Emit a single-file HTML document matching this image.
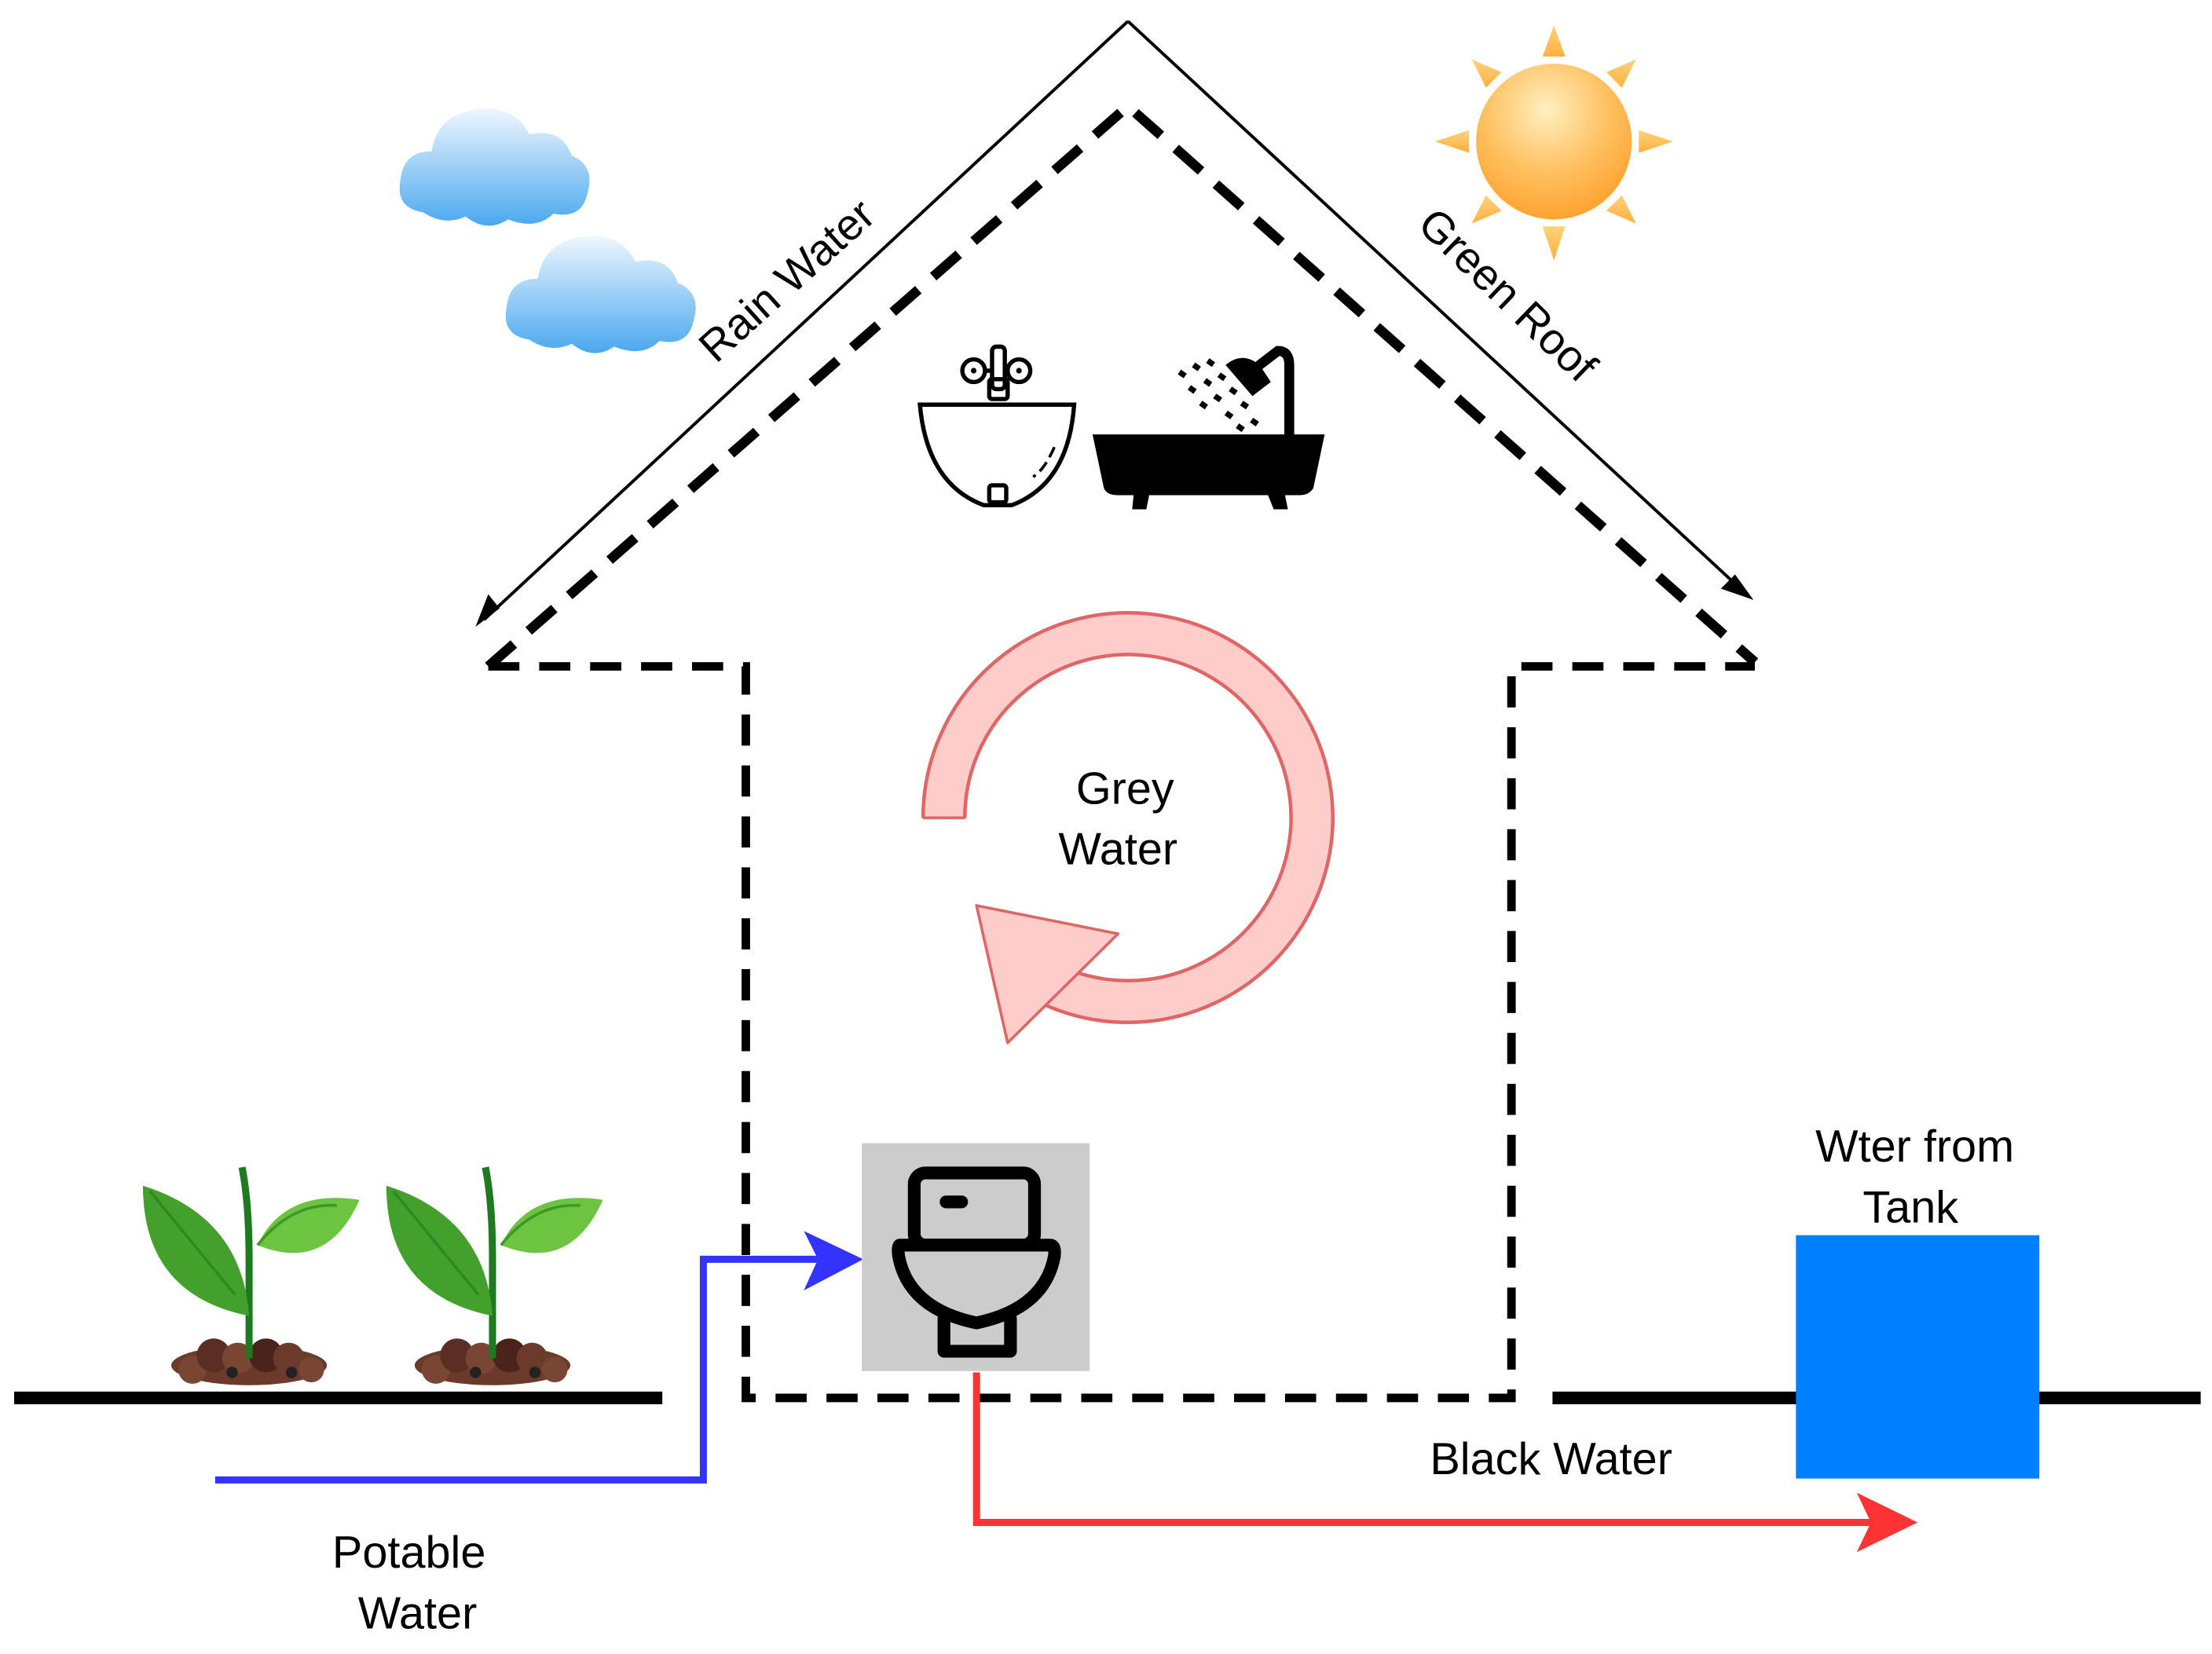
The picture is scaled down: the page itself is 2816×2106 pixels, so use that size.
<!DOCTYPE html>
<html><head><meta charset="utf-8"><style>html,body{margin:0;padding:0;background:#fff}svg{display:block}</style></head><body>
<svg width="2816" height="2106" viewBox="0 0 1563 1169" preserveAspectRatio="none" xmlns="http://www.w3.org/2000/svg" font-family="Liberation Sans, sans-serif">
<defs>
<linearGradient id="cl" x1="0" y1="0" x2="0" y2="1"><stop offset="0" stop-color="#eef7fe"/><stop offset="1" stop-color="#4aa8ef"/></linearGradient>
<radialGradient id="sun" cx="0.45" cy="0.3" r="0.8"><stop offset="0" stop-color="#fff0c0"/><stop offset="0.5" stop-color="#ffc060"/><stop offset="1" stop-color="#ff9a20"/></radialGradient>
<linearGradient id="ray" x1="0" y1="0" x2="0" y2="1"><stop offset="0" stop-color="#ffd27a"/><stop offset="1" stop-color="#ffb040"/></linearGradient>
<g id="cloud"><path fill="url(#cl)" d="M-50 35 Q-70 32 -66 12 Q-64 -8 -44 -8 Q-40 -35 -10 -38 Q15 -40 25 -20 Q48 -25 55 -5 Q72 2 66 22 Q62 40 42 36 Q30 48 10 40 Q-5 50 -20 38 Q-35 45 -50 35Z"/></g>
<g id="plant">
<ellipse cx="0" cy="135" rx="55" ry="14" fill="#6b3a2a"/>
<circle cx="-40" cy="138" r="10" fill="#7a4634"/><circle cx="-25" cy="128" r="12" fill="#5a2e22"/><circle cx="-8" cy="130" r="11" fill="#7a4634"/><circle cx="12" cy="128" r="12" fill="#4a241a"/><circle cx="28" cy="130" r="11" fill="#6b3a2a"/><circle cx="44" cy="138" r="9" fill="#7a4634"/><circle cx="-12" cy="140" r="4" fill="#222"/><circle cx="30" cy="140" r="4" fill="#222"/>
<path d="M0 130 L0 60 Q0 20 -5 -5" stroke="#1e7a1e" stroke-width="5" fill="none"/>
<path d="M0 100 Q-5 30 -75 8 Q-75 85 0 100Z" fill="#43a02c"/>
<path d="M-70 12 L-10 85" stroke="#2c8a20" stroke-width="2"/>
<path d="M6 50 Q25 10 78 18 Q55 70 6 50Z" fill="#6cc440"/>
<path d="M6 50 Q30 20 62 22" stroke="#3d9a2a" stroke-width="2" fill="none"/>
</g>
</defs>

<use href="#cloud" x="349" y="115"/>
<use href="#cloud" x="424" y="205"/>

<g fill="url(#ray)">
<polygon points="1090,40 1106,40 1098,18"/>
<polygon points="1090,160 1106,160 1098,184"/>
<polygon points="1038,92 1038,108 1014,100"/>
<polygon points="1158,92 1158,108 1182,100"/>
<polygon points="1050,62 1061,51 1040,42"/>
<polygon points="1135,51 1146,62 1156,42"/>
<polygon points="1050,138 1061,149 1040,158"/>
<polygon points="1135,149 1146,138 1156,158"/>
</g>
<circle cx="1098" cy="100" r="55" fill="url(#sun)"/>

<g stroke="#000" stroke-width="2.2" fill="none">
<path d="M797 15 L342 438"/><path d="M797 15 L1234 420"/>
</g>
<polygon points="336,443 345,420 353,430" fill="#000"/>
<polygon points="1239,424 1216,416 1226,406" fill="#000"/>

<path d="M345 471 L797 75 L1240 468" fill="none" stroke="#000" stroke-width="7" stroke-dasharray="24 14"/>
<path d="M345 471 L527 471 L527 988 L1068 988 L1068 471 L1240 471" fill="none" stroke="#000" stroke-width="6" stroke-dasharray="22 14"/>

<path d="M10 988 L468 988 M1097 988 L1555 988" stroke="#000" stroke-width="9"/>

<text x="0" y="0" font-size="31" text-anchor="middle" transform="translate(563,206) rotate(-42)">Rain Water</text>
<text x="0" y="0" font-size="31" text-anchor="middle" transform="translate(1058,216) rotate(44)">Green Roof</text>

<g stroke="#000" stroke-width="3" fill="none">
<path d="M650 286 L759 286 Q755 342 715 357 L695 357 Q655 342 650 286Z"/>
<rect x="699" y="343" width="12" height="12" rx="2"/>
<rect x="701" y="245" width="9" height="30" rx="3"/>
<circle cx="688" cy="262" r="8"/><circle cx="720" cy="262" r="8"/>
<path d="M696 262 L701 262 M710 262 L712 262"/>
<rect x="699" y="268" width="13" height="14" rx="2"/>
<path d="M745 316 Q738 332 730 337" stroke-width="2" stroke-dasharray="8 4"/>
</g>
<circle cx="688" cy="262" r="2" fill="#000"/><circle cx="720" cy="262" r="2" fill="#000"/>

<path d="M772 307 L936 307 L928 345 Q925 350 918 350 L790 350 Q782 350 780 345Z" fill="#000"/>
<polygon points="801,350 812,350 810,360 800,360" fill="#000"/>
<polygon points="896,350 908,350 910,360 900,360" fill="#000"/>
<path d="M911 307 L911 258 Q911 248 903 248 L890 258" stroke="#000" stroke-width="7" fill="none" stroke-linecap="round"/>
<path d="M866 258 Q878 248 890 258 L898 270 Q890 276 885 280Z" fill="#000"/>
<g fill="#000">
<rect x="833" y="262" width="5" height="4" transform="rotate(35 835 264)"/><rect x="843" y="257" width="5" height="4" transform="rotate(35 845 259)"/><rect x="853" y="254" width="5" height="4" transform="rotate(35 855 256)"/>
<rect x="840" y="273" width="5" height="4" transform="rotate(35 842 275)"/><rect x="851" y="268" width="5" height="4" transform="rotate(35 853 270)"/><rect x="861" y="264" width="5" height="4" transform="rotate(35 863 266)"/>
<rect x="848" y="284" width="5" height="4" transform="rotate(35 850 286)"/><rect x="858" y="279" width="5" height="4" transform="rotate(35 860 281)"/><rect x="869" y="274" width="5" height="4" transform="rotate(35 871 276)"/>
<rect x="866" y="291" width="5" height="4" transform="rotate(35 868 293)"/><rect x="877" y="284" width="5" height="4" transform="rotate(35 879 286)"/><rect x="874" y="300" width="5" height="4" transform="rotate(35 876 302)"/><rect x="884" y="296" width="5" height="4" transform="rotate(35 886 298)"/>
</g>

<path d="M667 578 A130 130 0 1 1 745 697" fill="none" stroke="#e06666" stroke-width="32"/>
<path d="M667 578 A130 130 0 1 1 745 697" fill="none" stroke="#ffcccc" stroke-width="27"/>
<path d="M652 578 L682 578" stroke="#e06666" stroke-width="2"/>
<polygon points="690,640 790,660 712,737" fill="#ffcccc" stroke="#e06666" stroke-width="2" stroke-linejoin="round"/>
<text x="795" y="568" font-size="32" text-anchor="middle">Grey</text>
<text x="790" y="611" font-size="32" text-anchor="middle">Water</text>

<use href="#plant" x="176" y="830"/>
<use href="#plant" x="348" y="830"/>

<path d="M152 1046 L497 1046 L497 890 L580 890" fill="none" stroke="#3333ff" stroke-width="5"/>
<polygon points="568,870 610,890 568,912 578,890" fill="#3333ff"/>

<rect x="609" y="808" width="161" height="161" fill="#cccccc"/>
<g stroke="#000" stroke-width="9" fill="none" stroke-linejoin="round" stroke-linecap="round">
<rect x="646" y="829" width="85" height="51" rx="8"/>
<path d="M636 880 L742 880 Q746 880 745 888 Q738 925 690 935 Q642 925 635 888 Q634 880 636 880Z"/>
<path d="M667 932 L667 955 L714 955 L714 932"/>
</g>
<rect x="664" y="845" width="20" height="9" rx="4.5" fill="#000"/>

<path d="M690 970 L690 1076 L1325 1076" fill="none" stroke="#ff3333" stroke-width="5"/>
<polygon points="1312,1055 1355,1076 1312,1097 1322,1076" fill="#ff3333"/>

<rect x="1269" y="873" width="172" height="172" fill="#007fff"/>

<text x="1353" y="821" font-size="32" text-anchor="middle">Wter from</text>
<text x="1350" y="864" font-size="32" text-anchor="middle">Tank</text>
<text x="1096" y="1042" font-size="32" text-anchor="middle">Black Water</text>
<text x="289" y="1108" font-size="32" text-anchor="middle">Potable</text>
<text x="295" y="1151" font-size="32" text-anchor="middle">Water</text>
</svg>
</body></html>
